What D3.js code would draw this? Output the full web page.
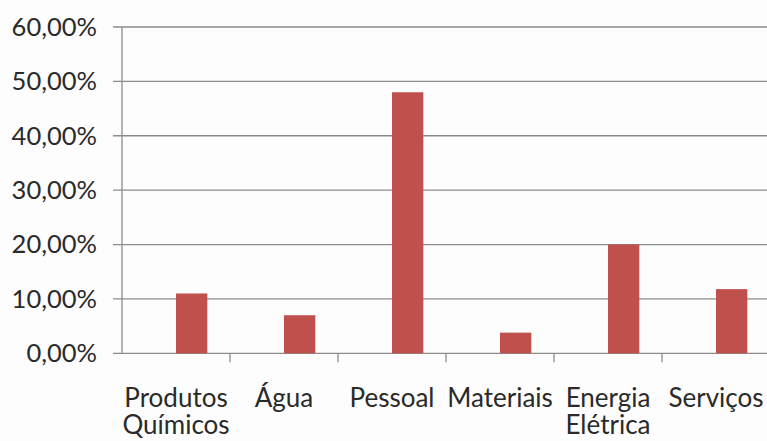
<!DOCTYPE html>
<html>
<head>
<meta charset="utf-8">
<script src="https://cdn.jsdelivr.net/npm/d3@7"></script>
<style>
  body { margin: 0; background: #fdfdfd; }
  svg { display: block; }
  text { font-family: Lato, "Open Sans", sans-serif; fill: #2a2a2a; }
</style>
</head>
<body>
<svg width="767" height="441"></svg>
<script>
(function () {
  "use strict";
  const categories = ["Produtos Químicos", "Água", "Pessoal", "Materiais", "Energia Elétrica", "Serviços"];
  const values = [0.11, 0.07, 0.48, 0.038, 0.20, 0.118];
  const yTicks = [0, 0.1, 0.2, 0.3, 0.4, 0.5, 0.6];

  const svg = d3.select("svg");
  const left = 122, right = 770, top = 27, bottom = 353.3;

  const x = d3.scaleBand().domain(categories).range([left, right]);
  const y = d3.scaleLinear().domain([0, 0.6]).range([bottom, top]);
  const fmt = v => d3.format(".2f")(v * 100).replace(".", ",") + "%";

  // gridlines
  svg.append("g")
    .selectAll("line")
    .data(yTicks)
    .join("line")
    .attr("x1", left - 9)
    .attr("x2", 767)
    .attr("y1", d => y(d))
    .attr("y2", d => y(d))
    .attr("stroke", "#8f8a87")
    .attr("stroke-width", 1.3);

  // y labels
  svg.append("g")
    .selectAll("text")
    .data(yTicks)
    .join("text")
    .attr("x", 97)
    .attr("y", d => y(d))
    .attr("dy", "0.35em")
    .attr("text-anchor", "end")
    .attr("font-size", 25.5)
    .text(fmt);

  // bars
  svg.append("g")
    .selectAll("rect")
    .data(values)
    .join("rect")
    .attr("x", (d, i) => x(categories[i]) + x.bandwidth() / 2)
    .attr("width", x.bandwidth() * 0.29)
    .attr("y", d => y(d))
    .attr("height", d => bottom - y(d))
    .attr("fill", "#c0504d");

  // axis lines
  svg.append("line")
    .attr("x1", left).attr("x2", left)
    .attr("y1", top).attr("y2", bottom)
    .attr("stroke", "#8f8a87").attr("stroke-width", 1.3);

  svg.append("g")
    .selectAll("line")
    .data(categories.slice(1))
    .join("line")
    .attr("x1", d => x(d)).attr("x2", d => x(d))
    .attr("y1", bottom).attr("y2", bottom + 9)
    .attr("stroke", "#8f8a87").attr("stroke-width", 1.3);

  // category labels
  const lab = svg.append("g")
    .selectAll("text")
    .data(categories)
    .join("text")
    .attr("x", d => x(d) + x.bandwidth() / 2)
    .attr("y", 407)
    .attr("text-anchor", "middle")
    .attr("font-size", 26);
  lab.selectAll("tspan")
    .data(d => d.split(" "))
    .join("tspan")
    .attr("x", function () { return d3.select(this.parentNode).attr("x"); })
    .attr("dy", (d, i) => i === 0 ? 0 : 27)
    .text(d => d);
})();
</script>
</body>
</html>
